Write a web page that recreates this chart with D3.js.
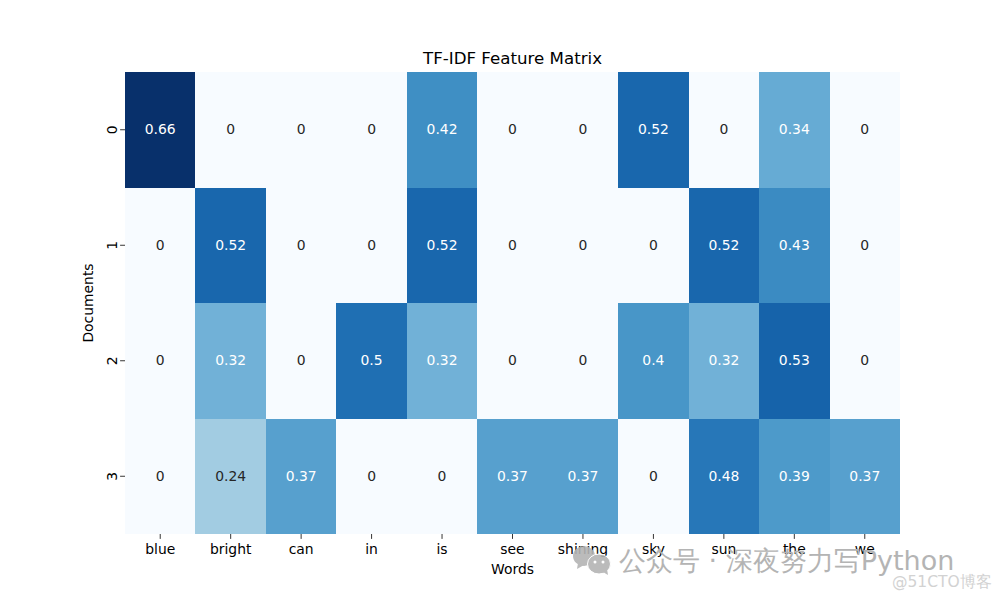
<!DOCTYPE html>
<html><head><meta charset="utf-8"><script src="https://cdn.jsdelivr.net/npm/d3@7"></script>
<style>html,body{margin:0;padding:0;background:#fff}svg{display:block}text{font-family:"DejaVu Sans",sans-serif}</style></head>
<body><svg id="c" width="1000" height="600"></svg>
<script>
const words = ["blue","bright","can","in","is","see","shining","sky","sun","the","we"];
const docs = ["0","1","2","3"];
const row0 = [0.66,0,0,0,0.42,0,0,0.52,0,0.34,0];
const row1 = [0,0.52,0,0,0.52,0,0,0,0.52,0.43,0];
const row2 = [0,0.32,0,0.5,0.32,0,0,0.4,0.32,0.53,0];
const row3 = [0,0.24,0.37,0,0,0.37,0.37,0,0.48,0.39,0.37];
const matrix = [row0,row1,row2,row3];
const blues = ["#f7fbff","#deebf7","#c6dbef","#9ecae1","#6baed6","#4292c6","#2171b5","#08519c","#08306b"];
const titleText = "TF-IDF Feature Matrix", xLabel = "Words", yLabel = "Documents";

const svg = d3.select("#c");
const L=125,R=900,T=72,B=534;
const x = d3.scaleBand().domain(words).range([L,R]).paddingInner(0).paddingOuter(0);
const y = d3.scaleBand().domain(docs).range([T,B]).paddingInner(0).paddingOuter(0);
const color = d3.scaleLinear().domain(blues.map((_,i)=>i/8*0.66)).range(blues).clamp(true);

const cells = matrix.flatMap((r,i)=>r.map((v,j)=>({doc:docs[i],word:words[j],v})));
svg.append("g").attr("shape-rendering","crispEdges").selectAll("rect").data(cells).join("rect")
  .attr("x",d=>x(d.word)).attr("y",d=>y(d.doc))
  .attr("width",x.bandwidth()).attr("height",y.bandwidth())
  .attr("fill",d=>color(d.v));

svg.append("g").selectAll("text").data(cells).join("text")
  .attr("x",d=>x(d.word)+x.bandwidth()/2).attr("y",d=>y(d.doc)+y.bandwidth()/2)
  .attr("text-anchor","middle").attr("dy","0.32em").attr("font-size",13.9)
  .attr("fill",d=>(d.v>=0.3?"#ffffff":"#262626"))
  .text(d=>d.v);

const gx = svg.append("g").attr("transform",`translate(0,${B})`).call(d3.axisBottom(x).tickSize(4.9).tickPadding(4.9));
gx.select(".domain").remove();
gx.selectAll("text").attr("font-size",13.9).attr("fill","#000").attr("font-family","DejaVu Sans");
gx.selectAll("line").attr("stroke","#000").attr("stroke-width",0.8);

const gy = svg.append("g").attr("transform",`translate(${L},0)`).call(d3.axisLeft(y).tickSize(4.9).tickPadding(4.9));
gy.select(".domain").remove();
gy.selectAll("line").attr("stroke","#000").attr("stroke-width",0.8);
gy.selectAll("text").attr("font-size",13.9).attr("fill","#000").attr("font-family","DejaVu Sans")
  .attr("x",null).attr("dy",null)
  .attr("text-anchor","middle")
  .attr("transform","translate(-12,0) rotate(-90)").attr("dy","0.32em");

svg.append("text").attr("x",512.5).attr("y",63.5).attr("text-anchor","middle").attr("font-size",16.67).attr("fill","#000").text(titleText);
svg.append("text").attr("x",512.5).attr("y",574).attr("text-anchor","middle").attr("font-size",13.9).attr("fill","#000").text(xLabel);
svg.append("text").attr("transform","translate(93,303) rotate(-90)").attr("text-anchor","middle").attr("font-size",13.9).attr("fill","#000").text(yLabel);

// watermark
const wm = svg.append("g").attr("opacity",0.9);
wm.append("ellipse").attr("cx",584).attr("cy",556).attr("rx",11).attr("ry",10).attr("fill","#b4b4b4");
wm.append("path").attr("d","M578 563 L577 569 L584 565Z").attr("fill","#b4b4b4");
wm.append("ellipse").attr("cx",599).attr("cy",564).attr("rx",11.5).attr("ry",10).attr("fill","#b4b4b4").attr("stroke","#fff").attr("stroke-width",1);
wm.append("path").attr("d","M603 572 L608 575 L607 569Z").attr("fill","#b4b4b4");
wm.append("circle").attr("cx",595).attr("cy",562).attr("r",1.5).attr("fill","#fff");
wm.append("circle").attr("cx",603).attr("cy",562).attr("r",1.5).attr("fill","#fff");
svg.append("text").attr("x",619).attr("y",570).attr("font-size",27).attr("fill","#b4b4b4").attr("font-family","Noto Sans CJK SC").text("公众号 · 深夜努力写Python");
svg.append("text").attr("x",892).attr("y",587).attr("font-size",15.5).attr("fill","#d2d2d2").attr("font-family","Noto Sans CJK SC").text("@51CTO博客");
</script></body></html>
